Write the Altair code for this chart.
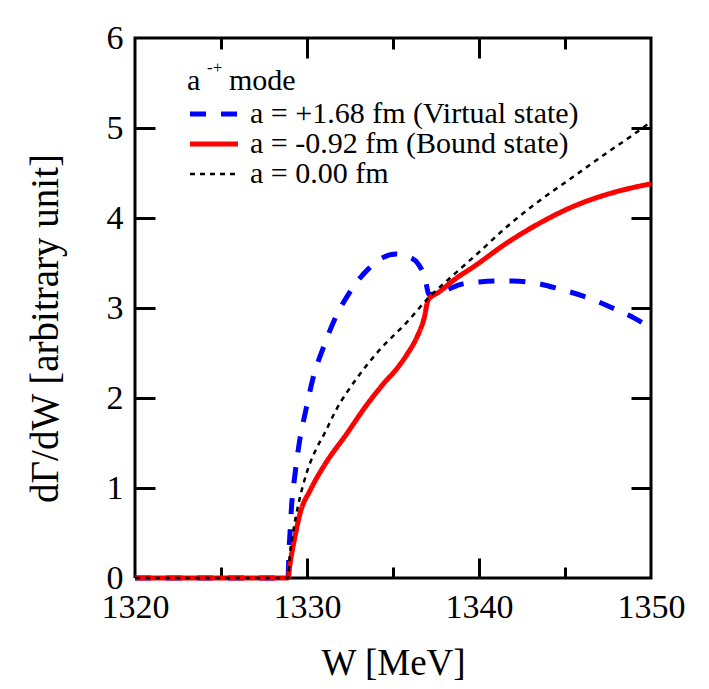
import altair as alt
import pandas as pd

FONT = "Liberation Serif"

SERIES = ["a = +1.68 fm (Virtual state)", "a = -0.92 fm (Bound state)", "a = 0.00 fm"]
COLORS = ["#0000ff", "#ff0000", "#000000"]
DASHES = [[16, 15], [1, 0], [5, 5]]
WIDTHS = [5, 5, 2.5]

W_BLUE = [1320, 1328.9, 1328.95, 1329.0, 1329.1, 1329.3, 1329.55, 1329.95, 1330.35, 1330.95, 1331.6,
          1332.5, 1333.6, 1334.4, 1335.2, 1335.9, 1336.5, 1336.85, 1337.1, 1337.7, 1338.9, 1340.0,
          1341.0, 1342.0, 1343.2, 1344.7, 1346.4, 1348.0, 1349.0, 1350]
Y_BLUE = [0, 0, 0.3, 0.46, 0.79, 1.15, 1.5, 1.88, 2.22, 2.56, 2.87,
          3.18, 3.44, 3.56, 3.60, 3.57, 3.48, 3.34, 3.15, 3.17, 3.26, 3.29,
          3.30, 3.30, 3.28, 3.21, 3.11, 2.98, 2.89, 2.78]

W_RED = [1320, 1328.9, 1329.0, 1329.3, 1329.6, 1330.2, 1331.0, 1332.3, 1333.5, 1334.5, 1335.2,
         1335.8, 1336.4, 1336.8, 1337.05, 1337.7, 1338.6, 1339.7, 1341.6, 1343.5, 1345.5, 1347.4,
         1349.0, 1350]
Y_RED = [0, 0, 0.14, 0.46, 0.72, 0.98, 1.25, 1.6, 1.93, 2.17, 2.32,
         2.48, 2.68, 2.88, 3.09, 3.18, 3.32, 3.46, 3.72, 3.94, 4.13, 4.26,
         4.34, 4.38]

W_BLACK = [1320, 1328.9, 1329.0, 1329.2, 1329.5, 1330.0, 1330.5, 1331.0, 1331.7, 1332.9, 1334.2,
           1335.8, 1337.1, 1338.0, 1339.0, 1340.0, 1341.6, 1343.5, 1345.5, 1347.4, 1349.0, 1350]
Y_BLACK = [0, 0, 0.25, 0.52, 0.82, 1.18, 1.42, 1.6, 1.87, 2.22, 2.53,
           2.84, 3.12, 3.28, 3.45, 3.62, 3.9, 4.19, 4.46, 4.72, 4.93, 5.07]

X_LABELS = [1320, 1330, 1340, 1350]
X_MINOR = [1325, 1335, 1345]
X_MAJOR_INNER = [1330, 1340]
Y_LABELS = [0, 1, 2, 3, 4, 5, 6]
Y_INNER = [1, 2, 3, 4, 5]
TITLE_PARTS = ["a", "-+", "mode"]

XMIN, XMAX, YMIN, YMAX = 1320, 1350, 0, 6
W = 516
H = 540

rows = []
for name, ws, ys in zip(SERIES, [W_BLUE, W_RED, W_BLACK], [Y_BLUE, Y_RED, Y_BLACK]):
    for i, (w, y) in enumerate(zip(ws, ys)):
        rows.append({"series": name, "W": w, "Y": y, "i": i})
df = pd.DataFrame(rows)

frame_df = pd.DataFrame({
    "W": [XMIN, XMAX, XMAX, XMIN, XMIN],
    "Y": [YMIN, YMIN, YMAX, YMAX, YMIN],
    "o": [0, 1, 2, 3, 4],
})

legend = alt.Legend(
    orient="none", legendX=64, legendY=61, title=None, symbolType="M-4,0H4",
    symbolSize=144, labelFont=FONT, labelFontSize=30, labelColor="black",
    labelOffset=21, rowPadding=0, padding=0, labelLimit=600,
)

xscale = alt.Scale(domain=[XMIN, XMAX], nice=False, zero=False)
yscale = alt.Scale(domain=[YMIN, YMAX], nice=False, zero=False)

x_axis = alt.Axis(
    values=X_LABELS, title="W [MeV]", grid=False, ticks=False, tickSize=0, domain=False,
    labelFont=FONT, labelFontSize=34, labelColor="black", labelPadding=12, format="d",
    titleFont=FONT, titleFontSize=37, titleFontWeight="normal", titleColor="black",
    titleY=96, titleBaseline="alphabetic", labelFlush=False, orient="bottom")
y_axis = alt.Axis(
    values=Y_LABELS, title="dΓ/dW [arbitrary unit]", grid=False, ticks=False, tickSize=0,
    domain=False, labelFont=FONT, labelFontSize=34, labelColor="black", labelPadding=12,
    format="d", titleFont=FONT, titleFontSize=39, titleFontWeight="normal", titleColor="black",
    titleX=-90, titleY=290, titleBaseline="middle", labelFlush=False, orient="left")

frame = alt.Chart(frame_df).mark_line(color="black", strokeWidth=3, strokeJoin="miter").encode(
    x=alt.X("W:Q", scale=xscale, axis=x_axis),
    y=alt.Y("Y:Q", scale=yscale, axis=y_axis),
    order="o:Q",
)

def tick_axis(orient, values, size, offset):
    return alt.Axis(
        orient=orient, values=values, labels=False, title=None, grid=False, domain=False,
        ticks=True, tickSize=size, offset=offset, tickColor="#000000", tickWidth=3,
        tickOpacity=1)

def tick_layer(xax, yax):
    return alt.Chart(frame_df).mark_point(opacity=0, size=0).encode(
        x=alt.X("W:Q", axis=xax), y=alt.Y("Y:Q", axis=yax))

tick_layers = [
    tick_layer(tick_axis("bottom", X_MAJOR_INNER, 20, -20), tick_axis("left", Y_INNER, 20, -20)),
    tick_layer(tick_axis("bottom", X_MINOR, 11, -11), tick_axis("right", Y_INNER, 20, -20)),
    tick_layer(tick_axis("top", X_MAJOR_INNER, 20, -20), None),
    tick_layer(tick_axis("top", X_MINOR, 11, -11), None),
]

lines = alt.Chart(df).mark_line(interpolate="monotone", clip=False).encode(
    x=alt.X("W:Q", axis=None),
    y=alt.Y("Y:Q", axis=None),
    color=alt.Color("series:N", scale=alt.Scale(domain=SERIES, range=COLORS), legend=legend),
    strokeDash=alt.StrokeDash("series:N", scale=alt.Scale(domain=SERIES, range=DASHES), legend=legend),
    strokeWidth=alt.StrokeWidth("series:N", scale=alt.Scale(type="ordinal", domain=SERIES, range=WIDTHS), legend=legend),
    order="i:Q",
)

def label(text, x, y, size):
    return alt.Chart(pd.DataFrame({"t": [text]})).mark_text(
        font=FONT, fontSize=size, color="black", align="left", baseline="alphabetic"
    ).encode(text="t:N", x=alt.value(x), y=alt.value(y))

title_layers = [
    label(TITLE_PARTS[0], 52, 52, 30),
    label(TITLE_PARTS[1], 72, 35, 17),
    label(TITLE_PARTS[2], 94, 52, 30),
]

chart = alt.layer(frame, *tick_layers, lines, *title_layers).resolve_axis(
    x="independent", y="independent"
).properties(
    width=W, height=H,
    autosize=alt.AutoSizeParams(type="none"),
    padding={"left": 127, "top": 30, "right": 50, "bottom": 103},
    background="white",
).configure_view(strokeWidth=0)

chart.save("out.html", embed_options={"renderer": "svg", "actions": False})
